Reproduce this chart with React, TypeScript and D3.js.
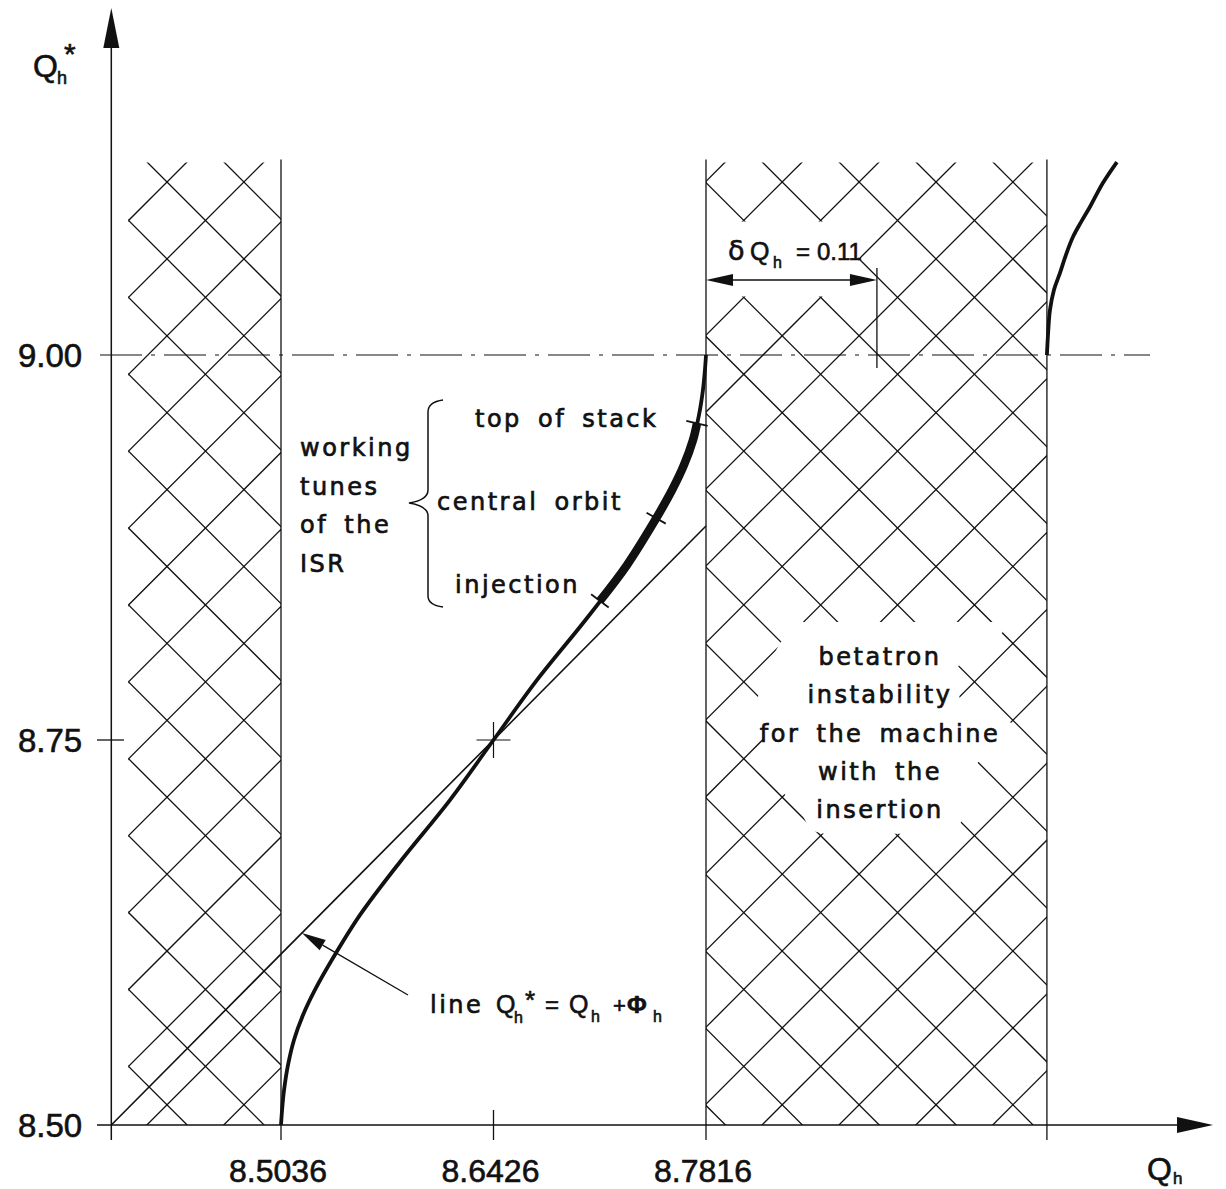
import React, { useEffect, useRef } from "react";
import * as d3 from "d3";

// main branch of Q*h as a function of Qh
const curveQ = [8.5036, 8.5043, 8.5056, 8.5082, 8.5121, 8.518, 8.5258, 8.5376, 8.5553, 8.5814, 8.6141, 8.6426, 8.6711, 8.7038, 8.7299, 8.7476, 8.7594, 8.7672, 8.7731, 8.777, 8.7796, 8.7809, 8.7816];
const curveQstar = [8.5, 8.5097, 8.5227, 8.539, 8.5552, 8.5714, 8.5877, 8.6084, 8.6364, 8.6708, 8.711, 8.75, 8.789, 8.8292, 8.8636, 8.8916, 8.9123, 8.9286, 8.9448, 8.961, 8.9773, 8.9903, 9.0];

// next branch, starting again at Q*h = 9.00
const branchQ = [9.0046, 9.0053, 9.0066, 9.0092, 9.0131, 9.017, 9.0216, 9.0269, 9.0327, 9.0412, 9.0504];
const branchQstar = [9.0, 9.013, 9.0292, 9.0422, 9.0532, 9.0649, 9.0766, 9.0863, 9.0961, 9.1117, 9.1253];

// straight line Q*h = Qh + phi_h
const lineQ = [8.3926, 8.7816];
const lineQstar = [8.5, 8.889];

// working tunes of the ISR
const workingQ = [8.7122, 8.749, 8.7757];
const workingQstar = [8.8403, 8.894, 8.9556];

// hatched stop bands
const bandStart = [8.4036, 8.7816];
const bandEnd = [8.5036, 9.0046];
const bandTop = 9.125;

// ticks
const xTicks = [8.5036, 8.6426, 8.7816];
const xTickLabels = ["8.5036", "8.6426", "8.7816"];
const yTicks = [8.5, 8.75, 9.0];
const yTickLabels = ["8.50", "8.75", "9.00"];

const deltaQh = 0.1118;
const centreQ = 8.6426;
const centreQstar = 8.75;
const pointerQ = 8.5173;
const pointerQstar = 8.6247;

// areas where the hatching is blanked out behind the labels
const dqErase = [[700, 221.5], [893, 221.5], [857, 258.9], [893, 296.4], [700, 296.4]];
const betatronErase = [[780, 643], [802, 622], [995, 622], [1003, 632], [962, 660], [955, 672], [960, 700], [998, 708], [1005, 720], [1016, 725], [1016, 758], [978, 762], [968, 800], [957, 834], [822, 833.5], [810, 830], [799, 808], [772, 782], [757, 700], [768, 665]];

const ink = "#111";
const numFont = "'Liberation Sans', Arial, sans-serif";
const txtFont = "'DejaVu Sans', sans-serif";

export default function App() {
  const ref = useRef<SVGSVGElement>(null);

  useEffect(() => {
    const svg = d3.select(ref.current);
    svg.selectAll("*").remove();

    const x = d3.scaleLinear().domain([8.5036, 8.7816]).range([281, 706]);
    const y = d3.scaleLinear().domain([8.5, 9.0]).range([1125, 355]);

    const defs = svg.append("defs");

    // clip hatching to the two stop bands
    const clip = defs.append("clipPath").attr("id", "bandClip");
    bandStart.forEach((b, i) => {
      clip
        .append("rect")
        .attr("x", x(b))
        .attr("y", y(bandTop))
        .attr("width", x(bandEnd[i]) - x(b))
        .attr("height", y(8.5) - y(bandTop));
    });

    const mask = defs
      .append("mask")
      .attr("id", "hatchMask")
      .attr("maskUnits", "userSpaceOnUse")
      .attr("x", 0)
      .attr("y", 0)
      .attr("width", 1226)
      .attr("height", 1189);
    mask.append("rect").attr("width", 1226).attr("height", 1189).attr("fill", "#fff");
    [dqErase, betatronErase].forEach((p) => {
      mask
        .append("polygon")
        .attr("points", p.map((d) => d.join(",")).join(" "))
        .attr("fill", "#000");
    });

    // cross hatching, 45 degree lines both ways
    const hatch = svg
      .append("g")
      .attr("clip-path", "url(#bandClip)")
      .attr("mask", "url(#hatchMask)")
      .attr("stroke", ink)
      .attr("stroke-width", 1.3);
    const step = 76.9;
    for (let n = -15; n <= 15; n++) {
      const c = 15 + step * n; // y - x = c
      hatch.append("line").attr("x1", 100).attr("y1", 100 + c).attr("x2", 1100).attr("y2", 1100 + c);
    }
    for (let n = -3; n <= 27; n++) {
      const c = 349 + step * n; // y + x = c
      hatch.append("line").attr("x1", 100).attr("y1", c - 100).attr("x2", 1100).attr("y2", c - 1100);
    }

    // band edges
    [bandEnd[0], bandStart[1], bandEnd[1]].forEach((b) => {
      svg
        .append("line")
        .attr("x1", x(b))
        .attr("x2", x(b))
        .attr("y1", y(bandTop) - 3)
        .attr("y2", y(8.5) + 15)
        .attr("stroke", ink)
        .attr("stroke-width", 1.3);
    });

    // dash-dot line at 9.00
    svg
      .append("line")
      .attr("x1", 100)
      .attr("x2", 1150)
      .attr("y1", y(9.0))
      .attr("y2", y(9.0))
      .attr("stroke", ink)
      .attr("stroke-width", 1.2)
      .attr("stroke-dasharray", "42 9 4 9");

    // axes
    const x0 = x(lineQ[0]);
    svg.append("line").attr("x1", x0).attr("x2", x0).attr("y1", y(8.5) + 15).attr("y2", 45)
      .attr("stroke", ink).attr("stroke-width", 1.5);
    svg.append("path").attr("d", `M${x0},8 L${x0 - 8},48 L${x0 + 8},48 Z`).attr("fill", ink);
    svg.append("line").attr("x1", 97).attr("x2", 1180).attr("y1", y(8.5)).attr("y2", y(8.5))
      .attr("stroke", ink).attr("stroke-width", 1.5);
    svg.append("path").attr("d", `M1213,${y(8.5)} L1177,${y(8.5) - 8} L1177,${y(8.5) + 8} Z`).attr("fill", ink);

    // numbers drawn a little heavier, like the stencil lettering
    const num = (g: any, tx: number, ty: number, size: number, s: string) =>
      g
        .append("text")
        .attr("x", tx)
        .attr("y", ty)
        .attr("font-family", numFont)
        .attr("font-size", size)
        .attr("fill", ink)
        .attr("stroke", ink)
        .attr("stroke-width", 0.6)
        .text(s);

    // y ticks + labels
    svg.append("line").attr("x1", 97).attr("x2", 124).attr("y1", y(8.75)).attr("y2", y(8.75))
      .attr("stroke", ink).attr("stroke-width", 1.3);
    yTicks.forEach((t, i) => num(svg, 18, y(t) + 12, 33, yTickLabels[i]));

    // x ticks + labels
    svg.append("line").attr("x1", x(8.6426)).attr("x2", x(8.6426)).attr("y1", y(8.5) - 15).attr("y2", y(8.5) + 15)
      .attr("stroke", ink).attr("stroke-width", 1.3);
    xTicks.forEach((t, i) => num(svg, x(t) - 3, 1182, 32, xTickLabels[i]).attr("text-anchor", "middle"));

    // axis titles
    num(svg, 33, 77, 32, "Q");
    num(svg, 64, 64, 30, "*");
    num(svg, 57, 84, 18, "h");
    num(svg, 1147, 1180, 32, "Q");
    num(svg, 1173, 1184, 17, "h");

    // straight line Q* = Q + phi
    svg
      .append("line")
      .attr("x1", x(lineQ[0]))
      .attr("y1", y(lineQstar[0]))
      .attr("x2", x(lineQ[1]))
      .attr("y2", y(lineQstar[1]))
      .attr("stroke", ink)
      .attr("stroke-width", 1.6);

    // centre cross
    const cx = x(centreQ),
      cy = y(centreQstar);
    svg.append("path").attr("d", `M${cx - 17},${cy} H${cx + 17} M${cx},${cy - 18} V${cy + 18}`)
      .attr("stroke", ink).attr("stroke-width", 1.2);

    // curves
    const curveLine = d3
      .line<number[]>()
      .x((d) => x(d[0]))
      .y((d) => y(d[1]))
      .curve(d3.curveCatmullRom.alpha(0.5));
    const mainPts = curveQ.map((q, i) => [q, curveQstar[i]]);
    const branchPts = branchQ.map((q, i) => [q, branchQstar[i]]);
    [mainPts, branchPts].forEach((pts) => {
      svg.append("path").attr("d", curveLine(pts)).attr("fill", "none").attr("stroke", ink).attr("stroke-width", 3.8);
    });

    // thick part: working tunes from injection to top of stack
    const bandPts = [[workingQ[0], workingQstar[0]]]
      .concat(mainPts.filter((p) => p[0] > workingQ[0] && p[0] < workingQ[2]))
      .concat([[workingQ[2], workingQstar[2]]]);
    svg.append("path").attr("d", curveLine(bandPts)).attr("fill", "none").attr("stroke", ink).attr("stroke-width", 8.5);

    // ticks across the curve at the working points
    workingQ.forEach((q, i) => {
      let j = 0;
      while (j < curveQ.length - 2 && curveQ[j + 1] < q) j++;
      const dx = x(curveQ[j + 1]) - x(curveQ[j]);
      const dy = y(curveQstar[j + 1]) - y(curveQstar[j]);
      const len = Math.hypot(dx, dy);
      const nx = -dy / len,
        ny = dx / len;
      const px = x(q),
        py = y(workingQstar[i]);
      svg
        .append("line")
        .attr("x1", px - nx * 11)
        .attr("y1", py - ny * 11)
        .attr("x2", px + nx * 11)
        .attr("y2", py + ny * 11)
        .attr("stroke", ink)
        .attr("stroke-width", 1.8);
    });

    const label = (tx: number, ty: number, s: string, anchor = "start") =>
      svg
        .append("text")
        .attr("x", tx)
        .attr("y", ty)
        .attr("text-anchor", anchor)
        .attr("font-family", txtFont)
        .attr("font-size", 24)
        .attr("letter-spacing", 2.5)
        .attr("word-spacing", 6)
        .attr("fill", ink)
        .attr("stroke", ink)
        .attr("stroke-width", 0.7)
        .text(s);

    label(475, 427, "top of stack");
    label(437, 510, "central orbit");
    label(455, 593, "injection");
    ["working", "tunes", "of the", "ISR"].forEach((s, i) => label(300, 456 + i * 38.5, s));

    // brace
    svg
      .append("path")
      .attr("d", "M443,400 Q428,402 428,412 L428,490 Q428,500 409,503 Q428,506 428,516 L428,596 Q428,605 443,607")
      .attr("fill", "none")
      .attr("stroke", ink)
      .attr("stroke-width", 1.5);

    ["betatron", "instability", "for the machine", "with the", "insertion"].forEach((s, i) =>
      label(880, 665 + i * 38.3, s, "middle")
    );

    // dimension delta Qh
    const dx1 = x(8.7816),
      dx2 = x(8.7816 + deltaQh),
      dy0 = 280;
    svg.append("line").attr("x1", dx1 + 20).attr("x2", dx2 - 20).attr("y1", dy0).attr("y2", dy0)
      .attr("stroke", ink).attr("stroke-width", 1.3);
    svg.append("path").attr("d", `M${dx1},${dy0} L${dx1 + 27},${dy0 - 6} L${dx1 + 27},${dy0 + 6} Z`).attr("fill", ink);
    svg.append("path").attr("d", `M${dx2},${dy0} L${dx2 - 27},${dy0 - 6} L${dx2 - 27},${dy0 + 6} Z`).attr("fill", ink);
    svg.append("line").attr("x1", dx2).attr("x2", dx2).attr("y1", 268).attr("y2", 368)
      .attr("stroke", ink).attr("stroke-width", 1.3);
    num(svg, 728, 260, 27, "δ").attr("font-family", txtFont);
    num(svg, 750, 260, 25, "Q");
    num(svg, 773, 268, 16, "h");
    num(svg, 796, 260, 24, "=");
    num(svg, 817, 260, 24, "0.11");

    // pointer to the straight line
    const tip = [x(pointerQ), y(pointerQstar)];
    const tail = [408, 995];
    const ul = Math.hypot(tip[0] - tail[0], tip[1] - tail[1]);
    const ux = (tip[0] - tail[0]) / ul;
    const uy = (tip[1] - tail[1]) / ul;
    const bx = tip[0] - ux * 24,
      by = tip[1] - uy * 24;
    svg.append("line").attr("x1", tail[0]).attr("y1", tail[1]).attr("x2", bx).attr("y2", by)
      .attr("stroke", ink).attr("stroke-width", 1.3);
    svg
      .append("path")
      .attr("d", `M${tip[0]},${tip[1]} L${bx - uy * 6},${by + ux * 6} L${bx + uy * 6},${by - ux * 6} Z`)
      .attr("fill", ink);

    label(430, 1013, "line");
    num(svg, 496, 1013, 25, "Q");
    num(svg, 525, 1009, 26, "*");
    num(svg, 514, 1023, 16, "h");
    num(svg, 545, 1013, 24, "=");
    num(svg, 569, 1013, 25, "Q");
    num(svg, 591, 1022, 16, "h");
    num(svg, 613, 1013, 22, "+");
    num(svg, 627, 1013, 24, "Φ").attr("font-weight", "bold");
    num(svg, 653, 1022, 16, "h");
  }, []);

  return (
    <svg
      ref={ref}
      width={1226}
      height={1189}
      style={{ position: "absolute", left: 0, top: 0, background: "#fff" }}
    />
  );
}
